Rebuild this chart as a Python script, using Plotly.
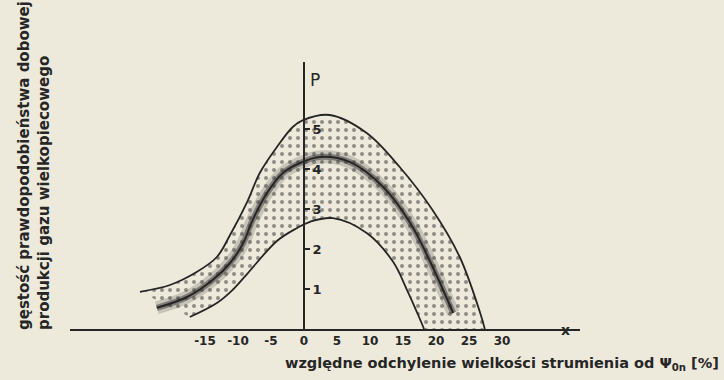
import plotly.graph_objects as go

# Outer (upper) boundary curve
outer_x = [-24.85, -20.3, -16.2, -13.2, -11.2, -8.6, -6.7, -4.1, -1.7, -0.15, 3.9, 9.5, 14.5, 19.5, 23.6, 26.7, 27.4]
outer_y = [0.93, 1.1, 1.43, 1.8, 2.35, 3.18, 3.9, 4.55, 5.05, 5.22, 5.35, 4.9, 4.05, 2.97, 1.8, 0.4, 0.0]

# Middle (most probable) curve
mid_x = [-22.3, -17.7, -13.8, -11.2, -9.2, -7.9, -5.6, -3.2, -0.6, 2.4, 7.0, 12.0, 16.1, 19.5, 22.6]
mid_y = [0.53, 0.8, 1.23, 1.65, 2.15, 2.68, 3.4, 3.9, 4.15, 4.3, 4.17, 3.55, 2.65, 1.55, 0.4]

# Inner (lower) boundary curve
inner_x = [-17.3, -13.2, -10.8, -8.6, -4.1, -1.1, 0.9, 4.4, 9.5, 13.5, 15.6, 17.3, 18.2]
inner_y = [0.3, 0.65, 0.98, 1.38, 2.2, 2.52, 2.68, 2.77, 2.4, 1.68, 0.98, 0.35, 0.0]

x_ticks = [-15, -10, -5, 0, 5, 10, 15, 20, 25, 30]
x_tick_text = ["-15", "-10", "-5", "0", "5", "10", "15", "20", "25", "30"]
y_ticks = [1, 2, 3, 4, 5]
y_tick_text = ["1", "2", "3", "4", "5"]

ink = "#262626"
bg = "#eeeadb"
font_family = "DejaVu Sans"

fig = go.Figure()

# stippled band between outer and inner curves
fig.add_trace(go.Scatter(
    x=outer_x + inner_x[::-1], y=outer_y + inner_y[::-1],
    mode="lines", line=dict(width=0, shape="spline", smoothing=1),
    fill="toself", fillcolor="rgba(0,0,0,0)",
    fillpattern=dict(shape=".", fgcolor="#2e2e2e", bgcolor="rgba(0,0,0,0)", size=8, solidity=0.2),
    hoverinfo="skip", showlegend=False))

# dense stipple around the middle curve
fig.add_trace(go.Scatter(x=mid_x, y=mid_y, mode="lines",
    line=dict(color="rgba(60,60,60,0.22)", width=13, shape="spline"), hoverinfo="skip", showlegend=False))
fig.add_trace(go.Scatter(x=mid_x, y=mid_y, mode="lines",
    line=dict(color="rgba(40,40,40,0.45)", width=6, shape="spline"), hoverinfo="skip", showlegend=False))
fig.add_trace(go.Scatter(x=mid_x, y=mid_y, mode="lines",
    line=dict(color=ink, width=2, shape="spline"), hoverinfo="skip", showlegend=False))

for xs, ys in [(outer_x, outer_y), (inner_x, inner_y)]:
    fig.add_trace(go.Scatter(x=xs, y=ys, mode="lines",
        line=dict(color=ink, width=1.8, shape="spline"), hoverinfo="skip", showlegend=False))

fig.update_layout(
    width=724, height=380,
    margin=dict(l=70, r=144, t=62, b=51),
    paper_bgcolor=bg, plot_bgcolor=bg,
    font=dict(family=font_family, color=ink),
    xaxis=dict(range=[-35.45, 41.82], showgrid=False, zeroline=False,
               showline=True, linewidth=2, linecolor=ink,
               tickvals=x_ticks, ticktext=x_tick_text, ticks="",
               tickfont=dict(size=12, family=font_family, weight="bold", color=ink)),
    yaxis=dict(range=[0, 6.675], showgrid=False, zeroline=False,
               anchor="free", position=(304 - 70) / 510, side="right",
               showline=True, linewidth=2, linecolor=ink,
               tickvals=y_ticks, ticktext=y_tick_text,
               ticks="outside", ticklen=5, tickwidth=1.5, tickcolor=ink,
               tickfont=dict(size=13, family=font_family, weight="bold", color=ink)),
)

fig.add_annotation(xref="paper", yref="paper", x=(315 - 70) / 510, y=(329 - 68) / 267,
                   text="P", showarrow=False, font=dict(size=17, family=font_family, color=ink))
fig.add_annotation(xref="paper", yref="paper", x=(572 - 70) / 510, y=(329 - 340) / 267,
                   text="x", showarrow=False, font=dict(size=14, family=font_family, weight="bold", color=ink))
fig.add_annotation(xref="paper", yref="paper", x=(502 - 70) / 510, y=(329 - 364) / 267,
                   xanchor="center", yanchor="middle",
                   text="względne odchylenie wielkości strumienia od Ψ<sub>0n</sub> [%]",
                   showarrow=False, font=dict(size=14.5, family=font_family, weight="bold", color=ink))
fig.add_annotation(xref="paper", yref="paper", x=(34 - 70) / 510, y=(329 - 166) / 267,
                   xanchor="center", yanchor="middle",
                   text="gęstość prawdopodobieństwa dobowej<br>produkcji gazu wielkopiecowego",
                   textangle=-90, align="left", showarrow=False,
                   font=dict(size=15, family=font_family, weight="bold", color=ink))

fig.write_html("out.html", config={"displayModeBar": False},
               post_script="document.body.style.margin='0';document.body.style.background='#eeeadb';")
